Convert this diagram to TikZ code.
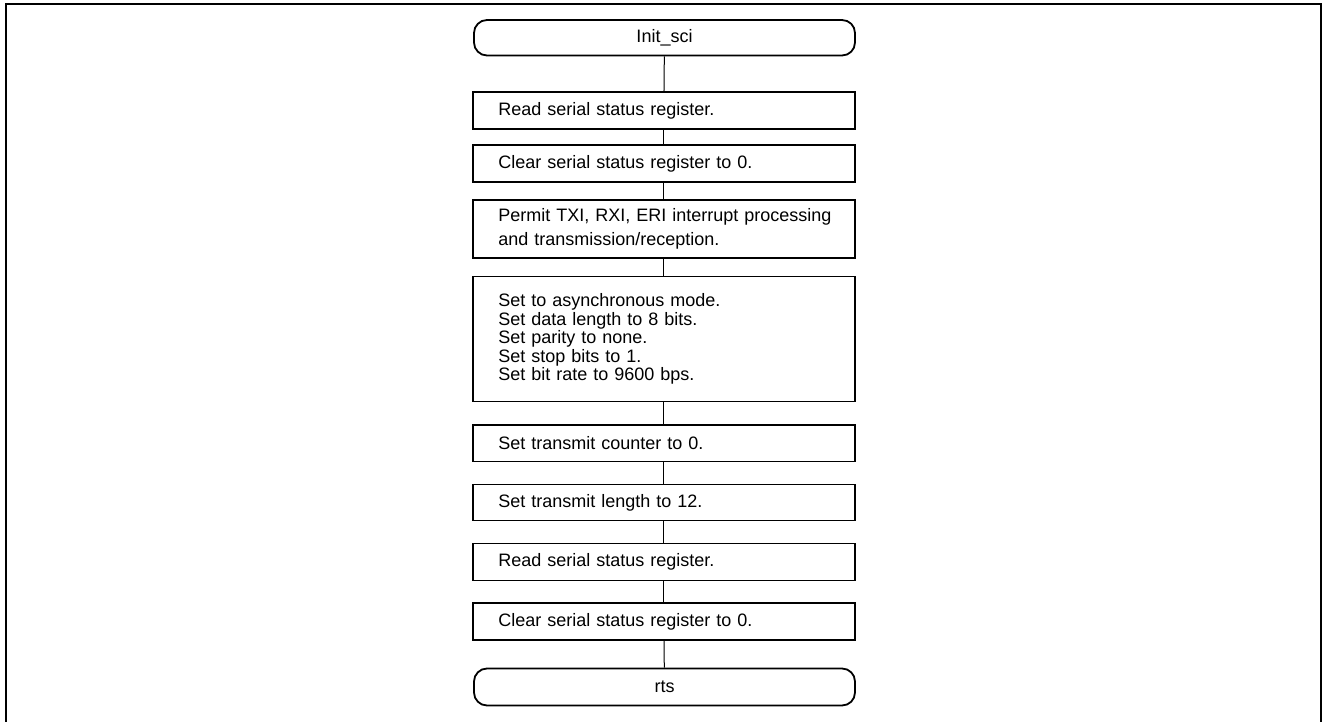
\documentclass[tikz,border=0pt]{standalone}
\usepackage{fontspec}
\setmainfont{Liberation Sans}
\newcommand{\boxfont}{\fontsize{18pt}{18.5pt}\selectfont}
\begin{document}
\begin{tikzpicture}[x=1pt,y=-1pt,
  procbox/.style={draw, line width=1.8pt, minimum width=382pt,
    text width=331pt, align=left, inner xsep=0pt, inner ysep=0pt,
    font=\boxfont, execute at begin node={\baselineskip=18.5pt\relax}},
  termbox/.style={draw, line width=1.8pt, rounded corners=13pt,
    minimum width=381pt, inner sep=0pt, font=\boxfont},
  link/.style={line width=1pt}]
  \useasboundingbox (0,0) rectangle (1322,722);
  % page frame (open at the bottom edge)
  \draw[line width=2pt] (6,740) -- (6,4) -- (1321,4) -- (1321,740);

  \node[termbox, minimum height=35.5pt] (start) at (664.5,37.75) {Init\_sci};
  \node[procbox, minimum height=37pt] (s1) at (663.8,110.5) {Read serial status register.};
  \node[procbox, minimum height=37pt] (s2) at (663.8,163.5) {Clear serial status register to 0.};
  \node[procbox, minimum height=58pt] (s3) at (663.8,229)
        {\mbox{Permit TXI, RXI, ERI interrupt processing}\\[6pt]and transmission/reception.};
  \node[procbox, minimum height=125pt] (s4) at (663.8,339)
        {Set to asynchronous mode.\\Set data length to 8 bits.\\Set parity to none.\\Set stop bits to 1.\\Set bit rate to 9600 bps.};
  \node[procbox, minimum height=36.5pt] (s5) at (663.8,443.25) {Set transmit counter to 0.};
  \node[procbox, minimum height=36pt] (s6) at (663.8,502.5) {Set transmit length to 12.};
  \node[procbox, minimum height=37pt] (s7) at (663.8,562) {Read serial status register.};
  \node[procbox, minimum height=37pt] (s8) at (663.8,621.5) {Clear serial status register to 0.};
  \node[termbox, minimum height=37pt] (stop) at (664.5,687) {rts};

  \foreach \a/\b in {start/s1, s1/s2, s2/s3, s3/s4, s4/s5, s5/s6, s6/s7, s7/s8, s8/stop}
    \draw[link] (\a) -- (\b);
\end{tikzpicture}
\end{document}
